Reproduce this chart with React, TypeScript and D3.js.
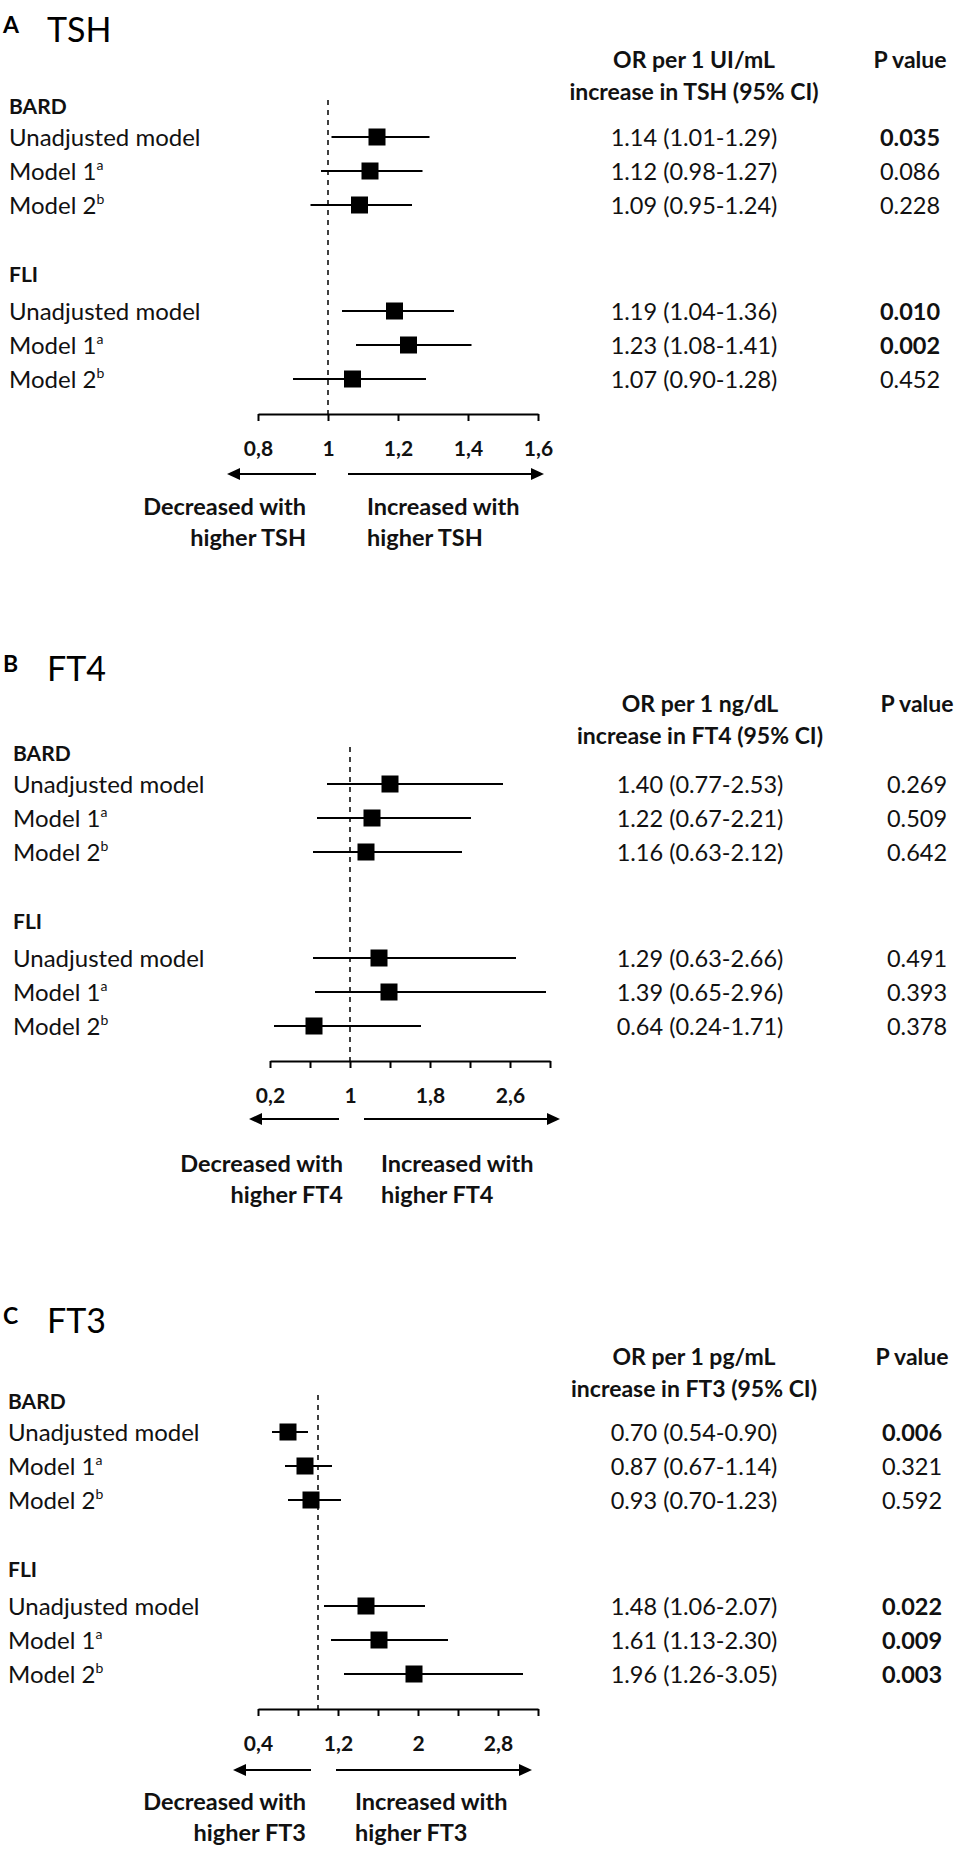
import React, { useEffect, useRef } from "react";
import * as d3 from "d3";

const panelLetters = ["A", "B", "C"];
const hormones = ["TSH", "FT4", "FT3"];
const orHeaders = ["OR per 1 UI/mL", "OR per 1 ng/dL", "OR per 1 pg/mL"];
const groups = ["BARD", "FLI"];
const models = ["Unadjusted model", "Model 1", "Model 2"];
const modelSup = ["", "a", "b"];

// rows: BARD (unadj, m1, m2), FLI (unadj, m1, m2)
const tshOR = [1.14, 1.12, 1.09, 1.19, 1.23, 1.07];
const tshLow = [1.01, 0.98, 0.95, 1.04, 1.08, 0.9];
const tshHigh = [1.29, 1.27, 1.24, 1.36, 1.41, 1.28];
const tshP = [0.035, 0.086, 0.228, 0.01, 0.002, 0.452];

const ft4OR = [1.4, 1.22, 1.16, 1.29, 1.39, 0.64];
const ft4Low = [0.77, 0.67, 0.63, 0.63, 0.65, 0.24];
const ft4High = [2.53, 2.21, 2.12, 2.66, 2.96, 1.71];
const ft4P = [0.269, 0.509, 0.642, 0.491, 0.393, 0.378];

const ft3OR = [0.7, 0.87, 0.93, 1.48, 1.61, 1.96];
const ft3Low = [0.54, 0.67, 0.7, 1.06, 1.13, 1.26];
const ft3High = [0.9, 1.14, 1.23, 2.07, 2.3, 3.05];
const ft3P = [0.006, 0.321, 0.592, 0.022, 0.009, 0.003];

const tshTicks = [0.8, 1, 1.2, 1.4, 1.6];
const tshTickLabels = ["0,8", "1", "1,2", "1,4", "1,6"];
const ft4Ticks = [0.2, 0.6, 1, 1.4, 1.8, 2.2, 2.6, 3.0];
const ft4TickLabels = ["0,2", "", "1", "", "1,8", "", "2,6", ""];
const ft3Ticks = [0.4, 0.8, 1.2, 1.6, 2, 2.4, 2.8, 3.2];
const ft3TickLabels = ["0,4", "", "1,2", "", "2", "", "2,8", ""];

const FONT = "Lato, 'Open Sans', sans-serif";

export default function App() {
  const svgRef = useRef<SVGSVGElement | null>(null);

  useEffect(() => {
    const svg = d3.select(svgRef.current);
    svg.selectAll("*").remove();

    const panels = [
      { or: tshOR, lo: tshLow, hi: tshHigh, p: tshP, ticks: tshTicks, tickLabels: tshTickLabels, range: [258, 538], top: 0, labelX: 9, orX: 694, pX: 910,
        titleY: 0, headY: 0, annY: 0, arrows: [227, 316, 348, 544], annX: [306, 367] },
      { or: ft4OR, lo: ft4Low, hi: ft4High, p: ft4P, ticks: ft4Ticks, tickLabels: ft4TickLabels, range: [270, 550], top: 647, labelX: 13, orX: 700, pX: 917,
        titleY: -8, headY: -3, annY: 10, arrows: [249, 339, 364, 560], annX: [343, 381] },
      { or: ft3OR, lo: ft3Low, hi: ft3High, p: ft3P, ticks: ft3Ticks, tickLabels: ft3TickLabels, range: [258, 538], top: 1295, labelX: 8, orX: 694, pX: 912,
        titleY: -4, headY: 2, annY: 0, arrows: [233, 311, 336, 532], annX: [306, 355] },
    ];

    const rowY = (i: number) => 137 + (i % 3) * 34 + Math.floor(i / 3) * 174;
    const groupY = [106, 274];
    const axisY = 414;
    const sq = 17;

    panels.forEach((pd, k) => {
      const g = svg.append("g").attr("transform", `translate(0,${pd.top})`).style("font-family", FONT);
      const x = d3.scaleLinear().domain([pd.ticks[0], pd.ticks[pd.ticks.length - 1]]).range(pd.range);

      // title
      g.append("text").attr("x", 3).attr("y", 33 + pd.titleY).attr("font-size", 23).attr("font-weight", 700).text(panelLetters[k]);
      g.append("text").attr("x", 47).attr("y", 42 + pd.titleY).attr("font-size", 34).text(hormones[k]);

      // column headers
      const head = (tx: number, ty: number, s: string) =>
        g.append("text").attr("x", tx).attr("y", ty + pd.headY).attr("text-anchor", "middle").attr("font-size", 23).attr("font-weight", 700).attr("fill", "#111").text(s);
      head(pd.orX, 68, orHeaders[k]);
      head(pd.orX, 100, `increase in ${hormones[k]} (95% CI)`);
      head(pd.pX, 68, "P value");

      // group headers
      groups.forEach((gr, j) => {
        g.append("text").attr("x", pd.labelX).attr("y", groupY[j] + 7.5).attr("font-size", 21).attr("font-weight", 700).attr("fill", "#111").text(gr);
      });

      // reference line at OR = 1
      g.append("line")
        .attr("x1", x(1)).attr("x2", x(1))
        .attr("y1", 100).attr("y2", axisY)
        .attr("stroke", "#111").attr("stroke-width", 1.6).attr("stroke-dasharray", "5,5");

      pd.or.forEach((v, i) => {
        const y = rowY(i);
        const lab = g.append("text").attr("x", pd.labelX).attr("y", y + 8.6).attr("font-size", 24).attr("fill", "#111");
        lab.append("tspan").text(models[i % 3]);
        if (modelSup[i % 3]) lab.append("tspan").attr("font-size", 14).attr("dy", -10).text(modelSup[i % 3]);

        g.append("line").attr("x1", x(pd.lo[i])).attr("x2", x(pd.hi[i])).attr("y1", y).attr("y2", y).attr("stroke", "#000").attr("stroke-width", 2);
        g.append("rect").attr("x", x(v) - sq / 2).attr("y", y - sq / 2).attr("width", sq).attr("height", sq).attr("fill", "#000");

        g.append("text").attr("x", pd.orX).attr("y", y + 8.5).attr("text-anchor", "middle").attr("font-size", 23.5).attr("fill", "#111")
          .text(`${v.toFixed(2)} (${pd.lo[i].toFixed(2)}-${pd.hi[i].toFixed(2)})`);
        g.append("text").attr("x", pd.pX).attr("y", y + 8.5).attr("text-anchor", "middle").attr("font-size", 23.5).attr("fill", "#111")
          .attr("font-weight", pd.p[i] < 0.05 ? 700 : 400)
          .text(d3.format(".3f")(pd.p[i]));
      });

      // axis
      const axis = d3.axisBottom(x).tickValues(pd.ticks).tickSize(7).tickSizeOuter(0).tickPadding(20)
        .tickFormat((_d, i) => pd.tickLabels[i]);
      const ax = g.append("g").attr("transform", `translate(0,${axisY})`).call(axis);
      ax.select(".domain").attr("stroke-width", 2).attr("stroke", "#000");
      ax.selectAll(".tick line").attr("stroke-width", 2).attr("stroke", "#000");
      ax.selectAll(".tick text").attr("font-size", 21).attr("font-weight", 700).attr("font-family", FONT).attr("fill", "#111");

      // direction arrows
      const ay = 474 + (k === 1 ? -2 : k === 2 ? 1 : 0);
      const [l0, l1, r0, r1] = pd.arrows;
      g.append("line").attr("x1", l0 + 10).attr("x2", l1).attr("y1", ay).attr("y2", ay).attr("stroke", "#000").attr("stroke-width", 2);
      g.append("path").attr("d", `M${l0},${ay}L${l0 + 13},${ay - 6}L${l0 + 13},${ay + 6}Z`).attr("fill", "#000");
      g.append("line").attr("x1", r0).attr("x2", r1 - 10).attr("y1", ay).attr("y2", ay).attr("stroke", "#000").attr("stroke-width", 2);
      g.append("path").attr("d", `M${r1},${ay}L${r1 - 13},${ay - 6}L${r1 - 13},${ay + 6}Z`).attr("fill", "#000");

      const annot = (tx: number, ty: number, anchor: string, s: string) =>
        g.append("text").attr("x", tx).attr("y", ty).attr("text-anchor", anchor).attr("font-size", 23.5).attr("font-weight", 700).attr("fill", "#111").text(s);
      annot(pd.annX[0], 515 + pd.annY, "end", "Decreased with");
      annot(pd.annX[0], 546 + pd.annY, "end", `higher ${hormones[k]}`);
      annot(pd.annX[1], 515 + pd.annY, "start", "Increased with");
      annot(pd.annX[1], 546 + pd.annY, "start", `higher ${hormones[k]}`);
    });
  }, []);

  return <svg ref={svgRef} width={974} height={1853} style={{ position: "absolute", left: 0, top: 0, background: "#fff" }} />;
}
